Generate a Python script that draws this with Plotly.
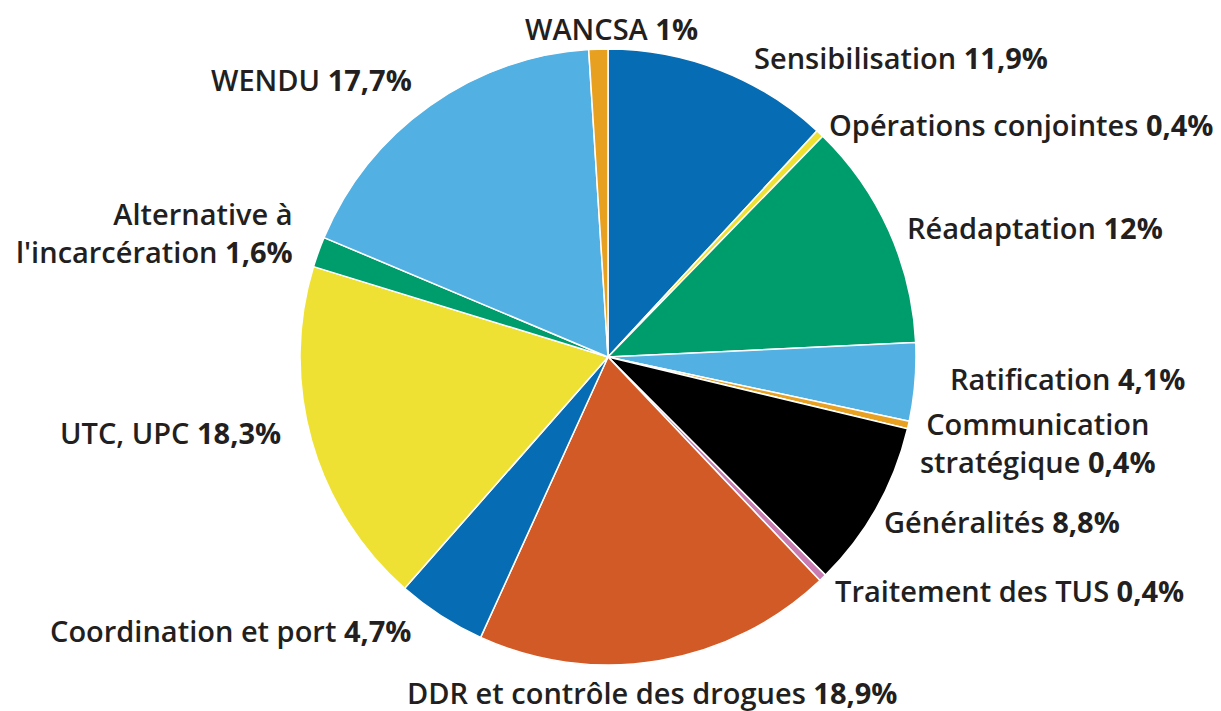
import plotly.graph_objects as go

categories = ["Sensibilisation", "Opérations conjointes", "Réadaptation", "Ratification",
              "Communication<br>stratégique", "Généralités", "Traitement des TUS",
              "DDR et contrôle des drogues", "Coordination et port", "UTC, UPC",
              "Alternative à<br>l'incarcération", "WENDU", "WANCSA"]
values = [11.9, 0.4, 12.0, 4.1, 0.4, 8.8, 0.4, 18.9, 4.7, 18.3, 1.6, 17.7, 1.0]
value_labels = ["11,9%", "0,4%", "12%", "4,1%", "0,4%", "8,8%", "0,4%",
                "18,9%", "4,7%", "18,3%", "1,6%", "17,7%", "1%"]

colors = ["#066cb3", "#efe133", "#009d6c", "#52b0e3", "#e8a021", "#000000", "#c77bb0",
          "#d15a27", "#066cb3", "#efe133", "#009d6c", "#52b0e3", "#e8a021"]

# label placement (pixel x, pixel y, xanchor, yanchor, align)
label_pos = [(745, 50, "left", "middle", "left"), (820, 117, "left", "middle", "left"),
             (898, 219, "left", "middle", "left"), (1178, 370, "right", "middle", "right"),
             (1030, 434, "center", "middle", "center"), (875, 513, "left", "middle", "left"),
             (826, 582, "left", "middle", "left"), (398, 684, "left", "middle", "left"),
             (404, 622, "right", "middle", "right"), (274, 425, "right", "middle", "right"),
             (286, 224, "right", "middle", "right"), (405, 72, "right", "middle", "right"),
             (603, 0, "center", "top", "center")]

W, H = 1221, 711
cx, cy, r = 600, 349, 308

fig = go.Figure(go.Pie(
    labels=categories, values=values, sort=False, direction="clockwise", rotation=0,
    marker=dict(colors=colors, line=dict(color="white", width=1.5)),
    textinfo="none", hoverinfo="label+percent",
    domain=dict(x=[(cx - r) / W, (cx + r) / W], y=[1 - (cy + r) / H, 1 - (cy - r) / H]),
    showlegend=False,
))

annotations = []
for cat, vl, (px, py, xa, ya, al) in zip(categories, value_labels, label_pos):
    annotations.append(dict(
        x=px / W, y=1 - py / H, xref="paper", yref="paper",
        xanchor=xa, yanchor=ya, align=al, showarrow=False, borderpad=0,
        text=f"{cat} <b>{vl}</b>",
        font=dict(family="Open Sans", size=29, color="#231f20", weight=600),
    ))

fig.update_layout(
    width=W, height=H, margin=dict(l=0, r=0, t=0, b=0),
    paper_bgcolor="white", plot_bgcolor="white",
    annotations=annotations,
)
fig.write_html("out.html")
